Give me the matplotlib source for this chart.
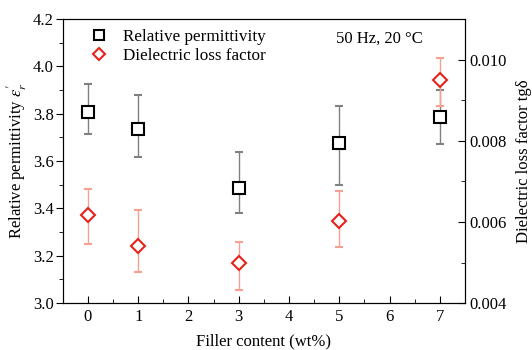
import matplotlib
matplotlib.use("Agg")
import matplotlib.pyplot as plt
from matplotlib.ticker import MultipleLocator

plt.rcParams["font.family"] = ["Liberation Serif", "DejaVu Serif"]
plt.rcParams["mathtext.fontset"] = "stix"

# filler content (wt%)
filler = [0, 1, 3, 5, 7]

# relative permittivity with error bounds
perm = [3.805, 3.737, 3.488, 3.674, 3.787]
perm_hi = [3.926, 3.880, 3.636, 3.834, 3.900]
perm_lo = [3.716, 3.619, 3.379, 3.497, 3.670]

# dielectric loss factor with error bounds
loss = [0.00616, 0.00540, 0.00498, 0.00601, 0.00950]
loss_hi = [0.00680, 0.00629, 0.00550, 0.00675, 0.01004]
loss_lo = [0.00545, 0.00476, 0.00432, 0.00538, 0.00885]

perm_err = [[p - l for p, l in zip(perm, perm_lo)], [h - p for p, h in zip(perm, perm_hi)]]
loss_err = [[v - l for v, l in zip(loss, loss_lo)], [h - v for v, h in zip(loss, loss_hi)]]

fig, ax = plt.subplots(figsize=(5.32, 3.5), dpi=100)
fig.subplots_adjust(left=0.118, right=0.874, top=0.946, bottom=0.134)
ax2 = ax.twinx()

h1 = ax.errorbar(filler, perm, yerr=perm_err, fmt="s", ms=8.5, mfc="white", mec="black", mew=1.5,
                 ecolor="#808080", elinewidth=1, capsize=3, capthick=1, zorder=3)
h2 = ax2.errorbar(filler, loss, yerr=loss_err, fmt="D", ms=7.5, mfc="white", mec="#e8221b", mew=1.5,
                  ecolor="#f5a090", elinewidth=1, capsize=3, capthick=1, zorder=3)

ax.set_xlim(-0.5, 7.5)
ax.set_ylim(3.0, 4.2)
ax2.set_ylim(0.004, 0.011)

ax.xaxis.set_major_locator(MultipleLocator(1))
ax.xaxis.set_minor_locator(MultipleLocator(0.5))
ax.yaxis.set_major_locator(MultipleLocator(0.2))
ax.yaxis.set_minor_locator(MultipleLocator(0.1))
ax.yaxis.set_major_formatter(matplotlib.ticker.FormatStrFormatter("%.1f"))
ax2.set_yticks([0.004, 0.006, 0.008, 0.010])
ax2.yaxis.set_minor_locator(MultipleLocator(0.001))
ax2.yaxis.set_major_formatter(matplotlib.ticker.FormatStrFormatter("%.3f"))

ax.tick_params(axis="x", which="both", direction="in", labelsize=12, pad=4)
ax.tick_params(axis="x", which="major", length=5)
ax.tick_params(axis="x", which="minor", length=3)
ax.tick_params(axis="y", which="major", direction="out", length=5, labelsize=12, pad=1.5)
ax.tick_params(axis="y", which="minor", direction="out", length=3)
ax2.tick_params(axis="y", which="major", direction="in", length=5, labelsize=12)
ax2.tick_params(axis="y", which="minor", direction="in", length=3)

ax.set_xlabel("Filler content (wt%)", fontsize=12, labelpad=6)
ax.set_ylabel(r"Relative permittivity $\varepsilon_r^{\prime}$", fontsize=12, labelpad=3)
ax2.set_ylabel("Dielectric loss factor tgδ", fontsize=12, labelpad=6)

# markers only in the legend, no error bar lines
leg = ax.legend([h1.lines[0], h2.lines[0]], ["Relative permittivity", "Dielectric loss factor"],
                loc="upper left", bbox_to_anchor=(0.053, 0.965), frameon=False, fontsize=12.3,
                handletextpad=0.45, handlelength=1.8, labelspacing=0.2, borderaxespad=0,
                borderpad=0, markerscale=0.85)
ax.text(0.68, 0.93, "50 Hz, 20 °C", transform=ax.transAxes, fontsize=12, va="center")

fig.savefig("out.png", dpi=100)
